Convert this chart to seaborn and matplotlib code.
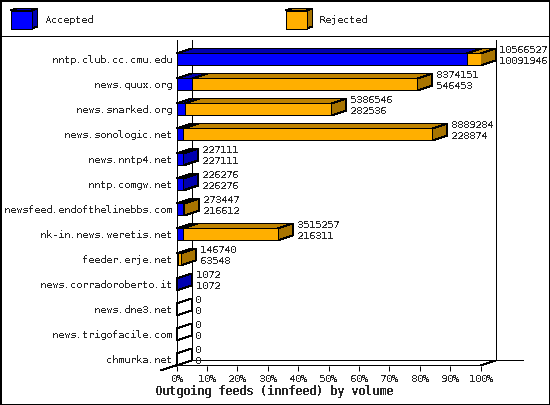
import matplotlib
matplotlib.use("Agg")
import matplotlib.pyplot as plt
from matplotlib.patches import Polygon, Rectangle
from matplotlib.lines import Line2D
from matplotlib.transforms import Affine2D
import seaborn as sns
import pandas as pd

hosts = ["nntp.club.cc.cmu.edu", "news.quux.org", "news.snarked.org", "news.sonologic.net",
         "news.nntp4.net", "nntp.comgw.net", "newsfeed.endofthelinebbs.com", "nk-in.news.weretis.net",
         "feeder.erje.net", "news.corradoroberto.it", "news.dne3.net", "news.trigofacile.com", "chmurka.net"]
offered = [10566527, 8374151, 5386546, 8889284, 227111, 226276, 273447, 3515257, 146740, 1072, 0, 0, 0]
accepted = [10091946, 546453, 282536, 228874, 227111, 226276, 216612, 216311, 63548, 1072, 0, 0, 0]
legend_names = ["Accepted", "Rejected"]
xlabel = "Outgoing feeds (innfeed) by volume"

BLUE, BLUE_D = "#0000FF", "#0000B0"
ORG, ORG_T, ORG_S = "#FFAF00", "#BF8300", "#A87400"

W, H = 550, 405
sns.set_style("white")
plt.rcParams.update({"font.family": ["DejaVu Sans Mono"], "font.size": 7.2,
                     "text.antialiased": False, "text.hinting": "native", "text.hinting_factor": 1,
                     "axes.unicode_minus": False})
fig = plt.figure(figsize=(W / 100, H / 100), dpi=100, facecolor="white")
L, R, T, B = 176.5, 480.5, 40.5, 365.5
ax = fig.add_axes([L / W, 1 - B / H, (R - L) / W, (B - T) / H])
ax.patch.set_alpha(0)

peak = max(offered)
df = pd.DataFrame({"host": hosts,
                   "total": [v / peak * 100 for v in offered],
                   "acc": [v / peak * 100 for v in accepted]})
HALF = 0.24
BW = HALF * 2
kw = dict(y="host", orient="h", width=BW, edgecolor="black", linewidth=0.72, ax=ax, zorder=3)
sns.barplot(data=df, x="total", color=ORG, saturation=1, **kw)
sns.barplot(data=df, x="acc", color=BLUE, saturation=1, **kw)
for p in ax.patches:
    p.set_antialiased(False)
    if p.get_width() == 0:
        p.set_visible(False)

ax.set_xlim(0, 100)
ax.set_ylim(12.24, -0.76)
DX, DY = 15 / 3.04, -5 / 25


def poly(pts, fc, z=2):
    ax.add_patch(Polygon(pts, closed=True, facecolor=fc, edgecolor="black", linewidth=0.72,
                         antialiased=False, clip_on=False, zorder=z))


def line(xs, ys, z=1):
    ax.add_line(Line2D(xs, ys, color="black", lw=0.72, antialiased=False, clip_on=False, zorder=z))


for i, (t, a, o) in enumerate(zip(df["total"], df["acc"], offered)):
    top, bot = i - HALF, i + HALF
    if a > 0:
        poly([(0, top), (a, top), (a + DX, top + DY), (DX, top + DY)], BLUE_D)
    if t > a:
        poly([(a, top), (t, top), (t + DX, top + DY), (a + DX, top + DY)], ORG_T)
    side = "none" if o == 0 else (BLUE_D if t == a else ORG_S)
    poly([(t, top), (t, bot), (t + DX, bot + DY), (t + DX, top + DY)], side)
    xt = t + DX + 4 / 3.04
    ax.text(xt, i - 9 / 25, str(o), ha="left", va="center", fontsize=7.2, zorder=5)
    ax.text(xt, i + 2 / 25, str(accepted[i]), ha="left", va="center", fontsize=7.2, zorder=5)

# walls of the 3-D frame
y0, y1 = -0.76, 12.24
line([0, 0], [y0, y1])
line([DX, DX], [y0, y1 + DY])
line([100 + DX, 100 + DX], [y0, y1 + DY])
line([0, 100], [y1, y1])
line([DX, 100 + DX + 27 / 3.04], [y1 + DY, y1 + DY])
line([-16 / 3.04, DX], [y1 + 5 / 25, y1 + DY])
line([100, 100 + DX], [y1, y1 + DY])

for s in ax.spines.values():
    s.set_visible(False)
ax.set_xticks(range(0, 101, 10))
ax.set_xticklabels([f"{v}%" for v in range(0, 101, 10)])
ax.tick_params(axis="x", bottom=True, length=3.6, width=0.72, pad=2.5, color="black", labelsize=7.2)
ax.tick_params(axis="y", left=False, length=0, pad=3, labelsize=7.2)
for t in ax.xaxis.get_major_ticks():
    t.tick1line.set_antialiased(False)
ax.set_ylabel("")
ax.set_xlabel(xlabel, fontsize=8.4, fontweight="bold", labelpad=1.5)
ax.xaxis.set_label_coords((274 - L) / (R - L), -(392 - B) / (B - T), transform=ax.transAxes)
ax.xaxis.label.set_va("center")

# frame and legend, placed in figure pixels
px = Affine2D().scale(1, -1).translate(0, H)


def fpoly(pts, fc):
    fig.add_artist(Polygon(pts, closed=True, facecolor=fc, edgecolor="black", linewidth=0.72,
                           antialiased=False, transform=px))


fig.add_artist(Rectangle((0.5, 0.5), W - 1, H - 1, fill=False, edgecolor="black", linewidth=1.44,
                         antialiased=False, transform=px))
fig.add_artist(Line2D([0, W], [35.5, 35.5], color="black", lw=0.72, antialiased=False, transform=px))
for x0, name, c_f, c_t, c_s in [(10.5, legend_names[0], BLUE, BLUE_D, BLUE_D),
                                (285.5, legend_names[1], ORG, ORG_T, ORG_S)]:
    fpoly([(x0, 10.5), (x0 + 6, 8.5), (x0 + 27, 8.5), (x0 + 21, 10.5)], c_t)
    fpoly([(x0 + 21, 10.5), (x0 + 27, 8.5), (x0 + 27, 26.5), (x0 + 21, 28.5)], c_s)
    fpoly([(x0, 10.5), (x0 + 21, 10.5), (x0 + 21, 28.5), (x0, 28.5)], c_f)
    fig.text((x0 + 34) / W, 1 - 20 / H, name, ha="left", va="center", fontsize=7.2)

fig.savefig("out.png", dpi=100, facecolor="white")
